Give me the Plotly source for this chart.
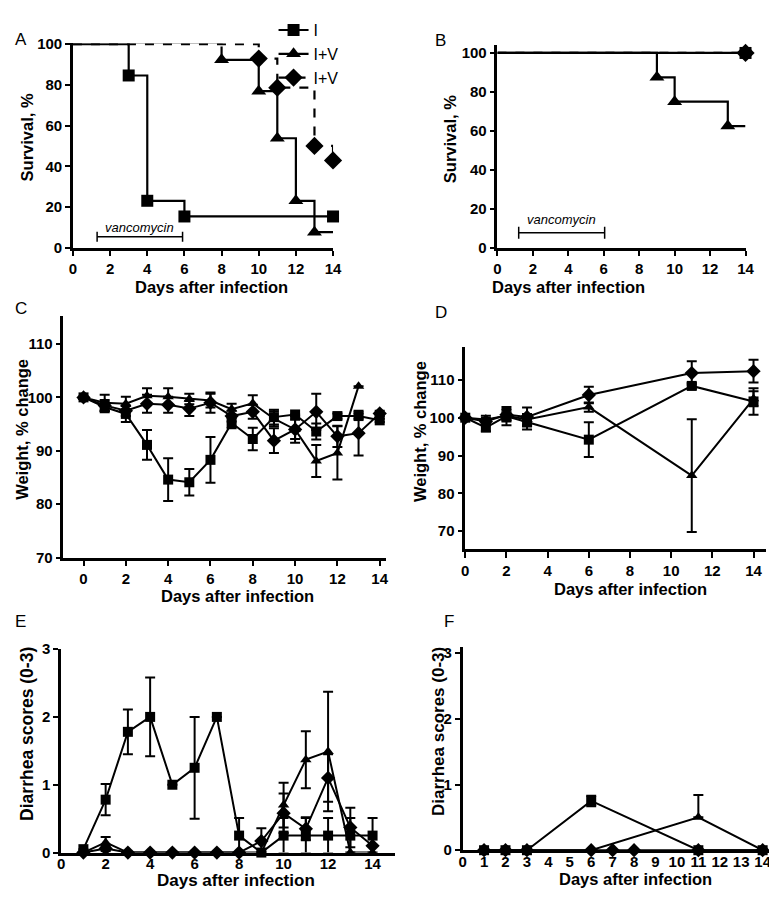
import plotly.graph_objects as go

# ---------------- DATA ----------------
# Panel A: Kaplan-Meier survival (%)
A_I_t = [0, 3, 4, 6, 14]
A_I_s = [100, 84.6, 23.1, 15.4, 15.4]
A_IVt_t = [0, 8, 10, 11, 12, 13, 14]
A_IVt_s = [100, 92.3, 76.9, 53.8, 23.1, 7.7, 7.7]
A_IVd_t = [0, 10, 11, 13, 14]
A_IVd_s = [100, 92.9, 78.6, 50.0, 42.9]
A_vanco = [1.3, 5.9]

# Panel B: survival (%)
B_I_t = [0, 14]
B_I_s = [100, 100]
B_IVt_t = [0, 9, 10, 13, 14]
B_IVt_s = [100, 87.5, 75.0, 62.5, 62.5]
B_IVd_t = [0, 14]
B_IVd_s = [100, 100]
B_vanco = [1.2, 6.05]

# Panel C: weight % change
C_days_I = list(range(15))
C_I = [100, 98.2, 96.9, 91.1, 84.6, 84.1, 88.3, 95.2, 92.2, 96.3, 96.8, 93.6, 96.5, 96.5, 95.7]
C_I_err = [0, 1.0, 1.5, 2.8, 4.0, 2.5, 4.3, 1.0, 2.1, 1.4, 0, 1.5, 0.5, 0.5, 0.3]
C_days_tri = list(range(14))
C_tri = [100, 99.0, 98.8, 100.3, 100.1, 99.7, 99.4, 97.8, 98.9, 96.0, 94.0, 88.1, 89.6, 102.1]
C_tri_err = [0, 1.5, 1.3, 1.4, 1.6, 1.0, 1.3, 1.0, 1.5, 1.4, 1.8, 3.0, 5.0, 0]
C_days_dia = list(range(15))
C_dia = [100, 98.5, 97.5, 98.8, 98.6, 97.9, 99.0, 96.5, 97.3, 91.9, 94.0, 97.3, 92.7, 93.3, 97.0]
C_dia_err = [0, 1.0, 1.0, 1.7, 1.5, 1.4, 1.9, 1.0, 1.3, 2.3, 2.5, 3.4, 2.0, 4.2, 0.5]

# Panel D: weight % change
D_days = [0, 1, 2, 3, 6, 11, 14]
D_I = [100, 97.4, 100.4, 98.9, 94.2, 108.4, 104.3]
D_I_err = [0, 1.0, 2.4, 2.0, 4.6, 0.8, 3.5]
D_tri = [100, 99.5, 100.5, 99.5, 102.8, 84.7, 105.0]
D_tri_err = [0, 1.0, 1.5, 1.5, 1.2, 14.9, 2.0]
D_dia = [100, 99.0, 100.8, 100.2, 106.0, 111.8, 112.3]
D_dia_err = [0, 1.0, 1.5, 2.5, 2.2, 3.1, 3.0]

# Panel E: diarrhea scores
E_days = list(range(1, 15))
E_I = [0.05, 0.78, 1.78, 2.0, 1.0, 1.25, 2.0, 0.25, 0, 0.25, 0.25, 0.25, 0.25, 0.25]
E_I_err = [0, 0.23, 0.33, 0.58, 0, 0.75, 0, 0.26, 0, 0.26, 0.26, 0.26, 0.26, 0.26]
E_tri = [0, 0.15, 0, 0, 0, 0, 0, 0, 0, 0.70, 1.37, 1.49, 0, 0]
E_tri_err = [0, 0.08, 0, 0, 0, 0, 0, 0, 0, 0.33, 0.42, 0.88, 0, 0]
E_dia = [0, 0.06, 0, 0, 0, 0, 0, 0, 0.17, 0.58, 0.35, 1.10, 0.37, 0.10]
E_dia_err = [0, 0.04, 0, 0, 0, 0, 0, 0, 0.19, 0.29, 0.17, 0.35, 0.29, 0]

# Panel F: diarrhea scores
F_days_I = [1, 2, 3, 6, 11, 14]
F_I = [0, 0, 0, 0.75, 0, 0]
F_I_err = [0, 0, 0, 0.08, 0, 0]
F_days_tri = [1, 2, 3, 6, 11, 14]
F_tri = [0, 0, 0, 0, 0.5, 0]
F_tri_err = [0, 0, 0, 0, 0.34, 0]
F_days_dia = [1, 2, 3, 6, 7, 8, 11, 14]
F_dia = [0, 0, 0, 0, 0, 0, 0, 0]

LEGEND_NAMES = ["I", "I+V", "I+V"]

# ---------------- FIGURE ----------------
W, H = 777, 897
FONT = "Liberation Sans, Arial, sans-serif"
fig = go.Figure()


def xd(a, b):
    return [a / W, b / W]


def yd(top, bottom):
    return [1 - bottom / H, 1 - top / H]


def km(xa, ya, t, s, dash, symbol, size, mark_end=True, underlay=False):
    if underlay:
        fig.add_trace(go.Scatter(x=t, y=s, mode="lines", xaxis=xa, yaxis=ya,
                                 line=dict(color="white", width=5, shape="hv"),
                                 showlegend=False, hoverinfo="skip", cliponaxis=False))
    fig.add_trace(go.Scatter(x=t, y=s, mode="lines", xaxis=xa, yaxis=ya,
                             line=dict(color="black", width=2.2, shape="hv", dash=dash),
                             showlegend=False, cliponaxis=False))
    mt = t[1:] if mark_end else t[1:-1]
    ms = s[1:] if mark_end else s[1:-1]
    fig.add_trace(go.Scatter(x=mt, y=ms, mode="markers", xaxis=xa, yaxis=ya,
                             marker=dict(symbol=symbol, size=size, color="black"),
                             showlegend=False, cliponaxis=False))


def series(xa, ya, x, y, err, symbol, size, upper_only=False):
    ey = None
    if err is not None:
        e = [v if v > 0 else None for v in err]
        ey = dict(type="data", array=e, visible=True, color="black", thickness=2, width=5)
        if upper_only:
            ey.update(symmetric=False, arrayminus=[None] * len(e))
    fig.add_trace(go.Scatter(x=x, y=y, mode="lines+markers", xaxis=xa, yaxis=ya,
                             line=dict(color="black", width=2),
                             marker=dict(symbol=symbol, size=size, color="black"),
                             error_y=ey, showlegend=False, cliponaxis=False))


# Panel A
km("x", "y", A_IVt_t, A_IVt_s, "solid", "triangle-up", 13, mark_end=False)
km("x", "y", A_IVd_t, A_IVd_s, "dash", "diamond", 14, underlay=True)
km("x", "y", A_I_t, A_I_s, "solid", "square", 12)
# legend entries
for name, sym, dash, sz in zip(LEGEND_NAMES, ["square", "triangle-up", "diamond"],
                               ["solid", "solid", "dash"], [12, 13, 14]):
    fig.add_trace(go.Scatter(x=[None], y=[None], mode="lines+markers", name=name,
                             xaxis="x", yaxis="y",
                             line=dict(color="black", width=2.2, dash=dash),
                             marker=dict(symbol=sym, size=sz, color="black")))

# Panel B
km("x2", "y2", B_IVt_t, B_IVt_s, "solid", "triangle-up", 13, mark_end=False)
km("x2", "y2", B_I_t, B_I_s, "solid", "square", 12)
km("x2", "y2", B_IVd_t, B_IVd_s, "dash", "diamond", 14)

# Panel C
series("x3", "y3", C_days_I, C_I, C_I_err, "square", 10)
series("x3", "y3", C_days_tri, C_tri, C_tri_err, "triangle-up", 10)
series("x3", "y3", C_days_dia, C_dia, C_dia_err, "diamond", 11)

# Panel D
series("x4", "y4", D_days, D_I, D_I_err, "square", 10)
series("x4", "y4", D_days, D_tri, D_tri_err, "triangle-up", 10)
series("x4", "y4", D_days, D_dia, D_dia_err, "diamond", 11)

# Panel E
series("x5", "y5", E_days, E_I, E_I_err, "square", 10)
series("x5", "y5", E_days, E_tri, E_tri_err, "triangle-up", 10)
series("x5", "y5", E_days, E_dia, E_dia_err, "diamond", 11)

# Panel F
series("x6", "y6", F_days_dia, F_dia, None, "diamond", 11)
series("x6", "y6", F_days_I, F_I, F_I_err, "square", 10)
series("x6", "y6", F_days_tri, F_tri, F_tri_err, "triangle-up", 10, upper_only=True)

# ---------------- AXES ----------------
tickfont = dict(family=FONT, size=15, color="black", weight="bold")


def axis(domain, rng, dtick, anchor, tick0=0, ticklen=5, standoff=0):
    return dict(domain=domain, range=rng, dtick=dtick, tick0=tick0, anchor=anchor,
                showline=True, linewidth=2.5, linecolor="black",
                ticks="outside" if ticklen > 0 else "",
                ticklen=max(ticklen, 1), tickwidth=2, tickcolor="black", showgrid=False,
                zeroline=False, tickfont=tickfont, tickangle=0, fixedrange=True,
                ticklabelstandoff=standoff)


layout_axes = dict(
    xaxis=axis(xd(62, 326.5), [0, 14], 2, "y"),
    yaxis=axis(yd(27, 235.3), [0, 100.3], 20, "x"),
    xaxis2=axis(xd(493.7, 746), [0, 14], 2, "y2"),
    yaxis2=axis(yd(28.3, 235.3), [0, 104.2], 20, "x2"),
    xaxis3=axis(xd(52.3, 380), [-0.95, 14.28], 2, "y3", ticklen=6),
    yaxis3=axis(yd(305, 551), [70, 115.2], 10, "x3"),
    xaxis4=axis(xd(461, 766.7), [0, 14.6], 2, "y4", ticklen=6),
    yaxis4=axis(yd(336.7, 542.3), [65.3, 118.6], 10, "x4", tick0=70),
    xaxis5=axis(xd(50, 390), [0, 15.03], 2, "y5", ticklen=0, standoff=-4),
    yaxis5=axis(yd(644.3, 851.7), [0, 3], 1, "x5"),
    xaxis6=axis(xd(458.3, 773), [0, 14.44], 1, "y6", ticklen=0, standoff=-4),
    yaxis6=axis(yd(641.7, 849.3), [0, 3.1], 1, "x6"),
)
layout_axes["yaxis3"]["tickvals"] = [70, 80, 90, 100, 110]
layout_axes["yaxis4"]["tickvals"] = [70, 80, 90, 100, 110]

# ---------------- ANNOTATIONS ----------------
ann = []


def text(px, py, s, size=16, bold=True, angle=0, italic=False, xanchor="center"):
    ann.append(dict(x=px / W, y=1 - py / H, xref="paper", yref="paper", text=s,
                    showarrow=False, textangle=angle, xanchor=xanchor, yanchor="middle",
                    font=dict(family=FONT, size=size, color="black",
                              weight="bold" if bold else "normal",
                              style="italic" if italic else "normal")))


# panel letters
for lbl, px, py in [("A", 1, 23), ("B", 428, 24), ("C", 1, 297),
                    ("D", 428, 301), ("E", 1, 616), ("F", 437, 616)]:
    text(px, py, lbl, size=17, bold=False, xanchor="left")

# x titles
for px, py, sz in [(202.5, 275, 16.5), (566, 275, 16.5), (229, 590, 16.5),
                   (629, 583, 16.5), (227.5, 880, 17), (634, 879, 16.5)]:
    text(px, py, "Days after infection", size=sz)

# y titles
for px, py, s, sz in [(15, 123, "Survival, %", 16.5), (445, 125, "Survival, %", 16.5),
                      (10, 420, "Weight, % change", 16.5), (415, 423, "Weight, % change", 16.5),
                      (15, 731, "Diarrhea scores (0-3)", 17.5), (433, 728, "Diarrhea scores (0-3)", 17)]:
    text(px, py, s, size=sz, angle=-90)

# vancomycin labels (data coords)
for xr, yr, v, ytxt in [("x", "y", A_vanco, 10.0), ("x2", "y2", B_vanco, 14.3)]:
    ann.append(dict(x=sum(v) / 2, y=ytxt, xref=xr, yref=yr, text="vancomycin",
                    showarrow=False, yanchor="middle",
                    font=dict(family=FONT, size=13, color="black", style="italic")))

shapes = []
for xr, yr, v, yl, cap in [("x", "y", A_vanco, 5.4, 5), ("x2", "y2", B_vanco, 7.7, 6)]:
    shapes.append(dict(type="line", xref=xr, yref=yr, x0=v[0], x1=v[1], y0=yl, y1=yl,
                       line=dict(color="black", width=1.5)))
    for xv in v:
        shapes.append(dict(type="line", xref=xr, yref=yr, x0=xv, x1=xv,
                           ysizemode="pixel", yanchor=yl, y0=-cap, y1=cap,
                           line=dict(color="black", width=1.5)))

fig.update_layout(
    width=W, height=H, margin=dict(l=0, r=0, t=0, b=0),
    paper_bgcolor="white", plot_bgcolor="white",
    font=dict(family=FONT, color="black"),
    showlegend=True,
    legend=dict(x=266 / W, y=1 + 4 / H, xanchor="left", yanchor="top",
                bgcolor="rgba(0,0,0,0)", itemwidth=30, tracegroupgap=0,
                font=dict(family=FONT, size=16, color="black")),
    annotations=ann, shapes=shapes,
    **layout_axes,
)

fig.write_html("out.html")
